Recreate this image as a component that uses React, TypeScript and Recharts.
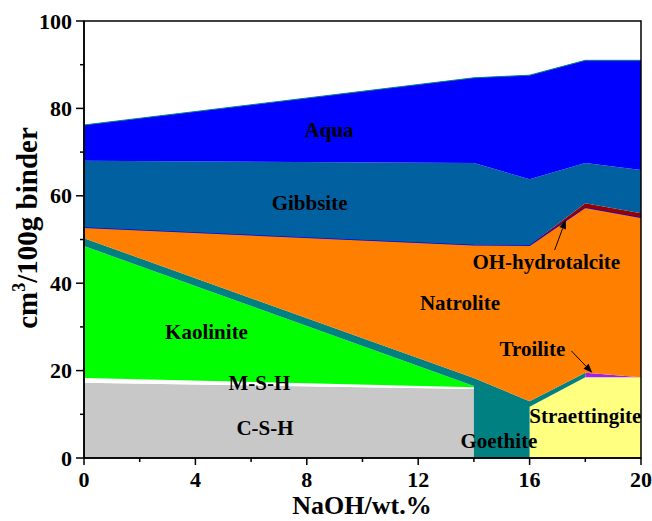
import { AreaChart, Area, XAxis, YAxis, ReferenceArea, ReferenceDot, ReferenceLine } from "recharts";

// NaOH dosage (wt.%); repeated x values give the vertical phase boundaries
const naoh = [0, 14, 14, 16, 16, 18, 18, 20];

// phase volumes, cm3/100g binder (stacked bottom to top)
const csh = [17.2, 15.8, 0, 0, 0, 0, 0, 0];
const msh = [1.1, 0.4, 0, 0, 0, 0, 0, 0];
const kaolinite = [30.2, 0.3, 0, 0, 0, 0, 0, 0];
const straettingite = [0, 0, 0, 0, 11.7, 18.5, 18.5, 18.5];
const goethite = [1.8, 1.8, 18.3, 13.0, 1.3, 1.0, 0, 0];
const troilite = [0, 0, 0, 0, 0, 0, 1.0, 0];
const natrolite = [2.5, 30.5, 30.5, 35.7, 35.7, 37.9, 37.9, 36.6];
const ohHydrotalcite = [0, 0, 0, 0, 0, 0.9, 0.9, 0.9];
const gibbsite = [15.2, 18.7, 18.7, 15.1, 15.1, 9.2, 9.2, 9.9];
const aqua = [8.2, 19.5, 19.5, 23.8, 23.8, 23.5, 23.5, 25.1];

const xTicks = [0, 2, 4, 6, 8, 10, 12, 14, 16, 18, 20];
const yTicks = [0, 10, 20, 30, 40, 50, 60, 70, 80, 90, 100];

const data = naoh.map((x, i) => ({
  naoh: x,
  csh: csh[i],
  msh: msh[i],
  kaolinite: kaolinite[i],
  straettingite: straettingite[i],
  goethite: goethite[i],
  troilite: troilite[i],
  natrolite: natrolite[i],
  ohHydrotalcite: ohHydrotalcite[i],
  gibbsite: gibbsite[i],
  aqua: aqua[i],
}));

const phases = [
  { key: "csh", fill: "#C8C8C8" },
  { key: "msh", fill: "#FFFFFF" },
  { key: "kaolinite", fill: "#00FF00" },
  { key: "straettingite", fill: "#FFFF80" },
  { key: "goethite", fill: "#008080" },
  { key: "troilite", fill: "#A020F0" },
  { key: "natrolite", fill: "#FF8000", stroke: "#0000FF", strokeWidth: 1.5 },
  { key: "ohHydrotalcite", fill: "#990000" },
  { key: "gibbsite", fill: "#0060A0" },
  { key: "aqua", fill: "#0000FF", stroke: "#008080", strokeWidth: 1 },
];

// phase names written inside the plot, in data coordinates
const phaseLabels = [
  { text: "Aqua", x: 8.8, y: 75.1 },
  { text: "Gibbsite", x: 8.1, y: 58.4 },
  { text: "OH-hydrotalcite", x: 16.6, y: 44.9 },
  { text: "Natrolite", x: 13.5, y: 35.5 },
  { text: "Kaolinite", x: 4.4, y: 28.8 },
  { text: "Troilite", x: 16.1, y: 24.9 },
  { text: "M-S-H", x: 6.3, y: 17.2 },
  { text: "C-S-H", x: 6.5, y: 6.9 },
  { text: "Goethite", x: 14.9, y: 3.9 },
  { text: "Straettingite", x: 18.0, y: 9.6 },
];

const arrows = [
  { from: { x: 16.9, y: 47.6 }, to: { x: 17.3, y: 54.5 } },
  { from: { x: 17.5, y: 24.5 }, to: { x: 18.25, y: 19.5 } },
];

const FONT = '"Liberation Serif", "Times New Roman", serif';
const PLOT_LEFT = 84;
const PLOT_BOTTOM = 458;

function XTick(props: any) {
  const { x, payload } = props;
  const major = payload.value % 4 === 0;
  return (
    <g>
      <line x1={x} x2={x} y1={PLOT_BOTTOM} y2={PLOT_BOTTOM + (major ? 7 : 4)} stroke="#000" strokeWidth={1.5} />
      {major && (
        <text x={x} y={PLOT_BOTTOM + 29} textAnchor="middle" fontFamily={FONT} fontWeight="bold" fontSize={22} fill="#000">
          {payload.value}
        </text>
      )}
    </g>
  );
}

function YTick(props: any) {
  const { y, payload } = props;
  const major = payload.value % 20 === 0;
  return (
    <g>
      <line x1={PLOT_LEFT} x2={PLOT_LEFT - (major ? 8 : 4)} y1={y} y2={y} stroke="#000" strokeWidth={1.5} />
      {major && (
        <text x={72} y={y + 7.5} textAnchor="end" fontFamily={FONT} fontWeight="bold" fontSize={22} fill="#000">
          {payload.value}
        </text>
      )}
    </g>
  );
}

function Arrow(props: any) {
  const { x1, y1, x2, y2 } = props;
  const a = Math.atan2(y2 - y1, x2 - x1);
  const len = 9;
  const w = 3.5;
  const bx = x2 - len * Math.cos(a);
  const by = y2 - len * Math.sin(a);
  const p1 = `${bx + w * Math.sin(a)},${by - w * Math.cos(a)}`;
  const p2 = `${bx - w * Math.sin(a)},${by + w * Math.cos(a)}`;
  return (
    <g>
      <line x1={x1} y1={y1} x2={bx} y2={by} stroke="#000" strokeWidth={1} />
      <polygon points={`${x2},${y2} ${p1} ${p2}`} fill="#000" />
    </g>
  );
}

export default function App() {
  return (
    <div style={{ position: "absolute", left: 0, top: 0, background: "#fff" }}>
      <AreaChart width={652} height={521} data={data} margin={{ top: 21, right: 11, left: 0, bottom: 0 }}>
        <XAxis
          dataKey="naoh"
          type="number"
          domain={[0, 20]}
          ticks={xTicks}
          height={63}
          tickLine={false}
          axisLine={{ stroke: "#000", strokeWidth: 1.5 }}
          tick={<XTick />}
          interval={0}
          label={{
            content: () => (
              <text x={362} y={514} textAnchor="middle" fontFamily={FONT} fontWeight="bold" fontSize={26} fill="#000">
                NaOH/wt.%
              </text>
            ),
          }}
        />
        <YAxis
          type="number"
          domain={[0, 100]}
          ticks={yTicks}
          width={84}
          tickLine={false}
          axisLine={{ stroke: "#000", strokeWidth: 1.5 }}
          tick={<YTick />}
          interval={0}
          label={{
            content: () => (
              <text
                transform="translate(37,228) rotate(-90)"
                textAnchor="middle"
                fontFamily={FONT}
                fontWeight="bold"
                fontSize={29}
                fill="#000"
              >
                cm
                <tspan dy={-12} fontSize={18}>3</tspan>
                <tspan dy={12}>/100g binder</tspan>
              </text>
            ),
          }}
        />
        {phases.map((p) => (
          <Area
            key={p.key}
            dataKey={p.key}
            stackId="phases"
            type="linear"
            fill={p.fill}
            fillOpacity={1}
            stroke={p.stroke ?? "none"}
            strokeWidth={p.strokeWidth ?? 0}
            isAnimationActive={false}
            dot={false}
            activeDot={false}
          />
        ))}
        {arrows.map((a, i) => (
          <ReferenceLine key={i} segment={[a.from, a.to]} shape={<Arrow />} ifOverflow="visible" />
        ))}
        {phaseLabels.map((l) => (
          <ReferenceDot
            key={l.text}
            x={l.x}
            y={l.y}
            r={0}
            fill="none"
            stroke="none"
            label={{
              content: (lp: any) => (
                <text
                  x={lp.viewBox.x}
                  y={lp.viewBox.y + 7}
                  textAnchor="middle"
                  fontFamily={FONT}
                  fontWeight="bold"
                  fontSize={21}
                  fill="#000"
                >
                  {l.text}
                </text>
              ),
            }}
          />
        ))}
        <ReferenceArea x1={0} x2={20} y1={0} y2={100} fill="none" stroke="#000" strokeWidth={1.5} />
      </AreaChart>
    </div>
  );
}
